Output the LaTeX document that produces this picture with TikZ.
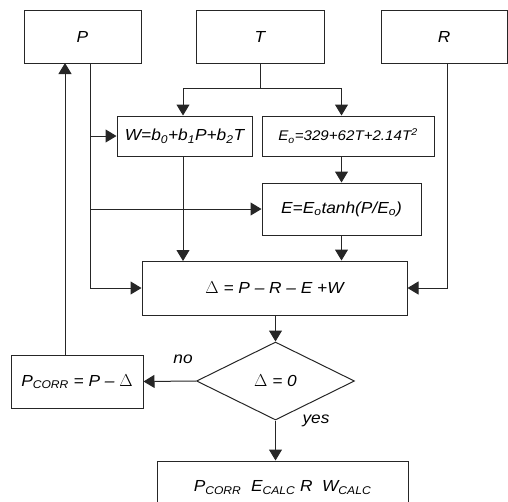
\documentclass[tikz,border=0pt]{standalone}
\usepackage{fontspec}
\setmainfont{Liberation Sans}[FakeStretch=1.08]
\usepackage{tikz}
\usetikzlibrary{shapes.geometric}
\usetikzlibrary{arrows.meta}

\begin{document}
\begin{tikzpicture}[x=1pt, y=-1pt,
	box/.style={draw=black!85, line width=1pt, shape=rectangle, inner sep=0pt, font=\fontsize{16}{18}\selectfont\itshape},
	decision/.style={draw=black!85, line width=1pt, shape=diamond, inner sep=0pt, minimum width=158pt, minimum height=78pt, font=\fontsize{16}{18}\selectfont\itshape},
	wire/.style={draw=black!85, line width=1pt},
	arr/.style={wire, -{Triangle[length=11pt, width=13pt]}},
	lbl/.style={font=\fontsize{16}{18}\selectfont\itshape}]
	\useasboundingbox (0, 0) rectangle (508, 501);
	% Input boxes:
	\node[box, minimum width=117pt, minimum height=53pt](P) at (82.5, 36.5){P};
	\node[box, minimum width=128pt, minimum height=53pt](T) at (260, 36.5){T};
	\node[box, minimum width=126pt, minimum height=53pt](R) at (444, 36.5){R};
	% Formula boxes:
	\node[box, minimum width=135pt, minimum height=40pt](W) at (184.5, 136){W=b\textsubscript{0}+b\textsubscript{1}P+b\textsubscript{2}T};
	\node[box, minimum width=172pt, minimum height=40pt, font=\fontsize{14}{16}\selectfont\itshape](Eo) at (348, 136){E\textsubscript{o}=329+62T+2.14T\textsuperscript{2}};
	\node[box, minimum width=159pt, minimum height=52pt](E) at (341.5, 209){E=E\textsubscript{o}tanh(P/E\textsubscript{o})};
	\node[box, minimum width=265pt, minimum height=54pt](D) at (274.5, 288){\upshape$\Delta$\itshape{} = P – R – E +W};
	\node[decision](dec) at (275.5, 381){\upshape$\Delta$\itshape{} = 0};
	\node[box, minimum width=132pt, minimum height=53pt](Pc) at (77, 381.5){P\textsubscript{CORR} = P – \upshape$\Delta$};
	\node[box, minimum width=251pt, minimum height=53pt](out) at (282.5, 487.5){P\textsubscript{CORR}\ \ E\textsubscript{CALC} R\ \ W\textsubscript{CALC}};
	\node[lbl](no) at (183, 359){no};
	\node[lbl](yes) at (316, 421){yes};
	% Wires:
	\coordinate (tsplit) at (260, 88);
	\coordinate (pdown) at (90, 63);
	\coordinate (pup) at (65, 63);
	\coordinate (rdown) at (447, 63);
	\draw[wire] (T.south) -- (tsplit);
	\draw[arr] (tsplit) -| (W.north -| 183, 0);
	\draw[arr] (tsplit) -| (E.north |- Eo.north);
	\draw[arr] (E.north |- Eo.south) -- (E.north);
	\draw[arr] (pdown) |- (D.west);
	\draw[arr] (pdown |- W.west) -- (W.west);
	\draw[arr] (pdown |- E.west) -- (E.west);
	\draw[arr] (183, 156) -- (183, 261);
	\draw[arr] (E.south) -- (E.south |- D.north);
	\draw[arr] (rdown) |- (D.east);
	\draw[arr] (D.south -| dec.north) -- (dec.north);
	\draw[arr] (dec.west) -- (Pc.east);
	\draw[arr] (Pc.north -| pup) -- (pup);
	\draw[arr] (dec.south) -- (out.north -| dec.south);
\end{tikzpicture}
\end{document}
